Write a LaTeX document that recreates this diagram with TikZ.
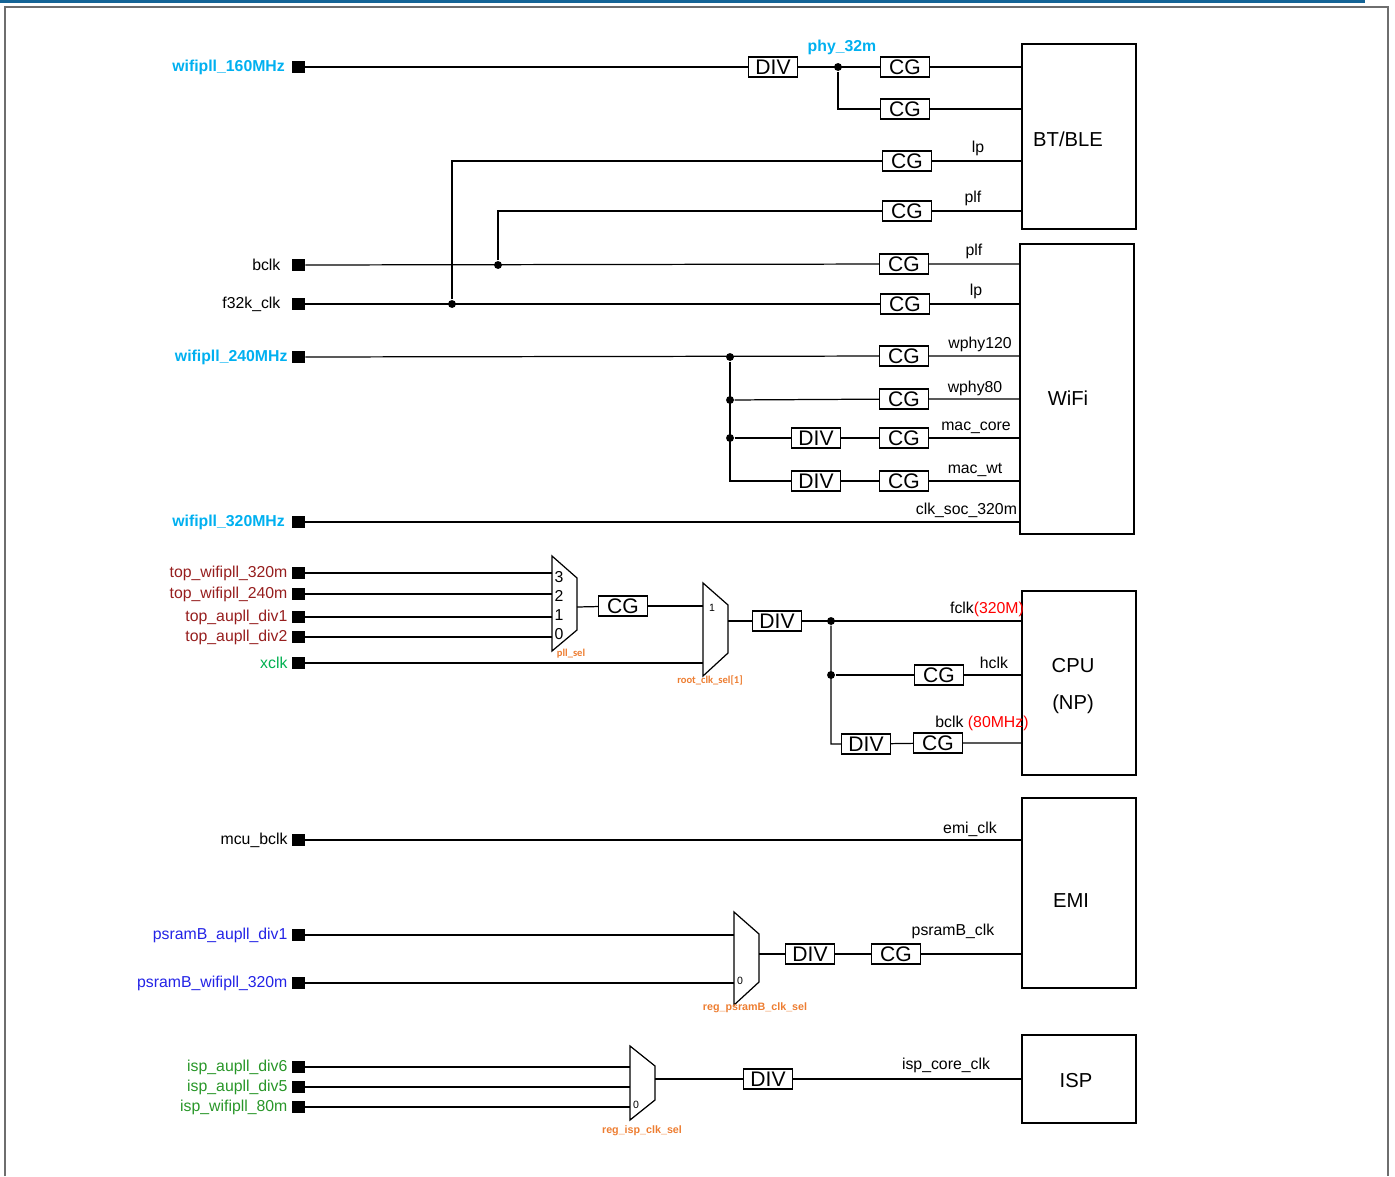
\documentclass[tikz,border=0pt]{standalone}
\usepackage{fontspec}
\setmainfont{Liberation Sans}
\newfontfamily\selfont{Carlito}
\usetikzlibrary{positioning}
\definecolor{pllblue}{RGB}{0,176,240}
\definecolor{topred}{RGB}{150,30,30}
\definecolor{xgreen}{RGB}{0,176,80}
\definecolor{psblue}{RGB}{35,35,230}
\definecolor{ispgreen}{RGB}{40,150,40}
\definecolor{selorange}{RGB}{237,125,49}
\definecolor{framegray}{RGB}{110,110,110}
\definecolor{barblue}{RGB}{20,100,150}
\begin{document}
\begin{tikzpicture}[x=0.02cm,y=-0.02cm,line width=0.7pt,
    pin/.style={fill=black,minimum size=7.2pt,inner sep=0pt},
    box/.style={draw,line width=0.8pt,minimum width=0.98cm,minimum height=0.4cm,inner sep=0pt,font=\fontsize{12}{12}\selectfont},
    blk/.style={draw,line width=0.8pt,minimum width=2.28cm},
    blktxt/.style={align=center,font=\fontsize{11.5}{21}\selectfont},
    lbl/.style={font=\fontsize{9}{10}\selectfont,inner sep=1pt},
    src/.style={lbl,font=\fontsize{9}{10}\selectfont\bfseries,text=pllblue},
    num/.style={font=\fontsize{6}{7}\selectfont,inner sep=0pt},
    sel/.style={font=\selfont\fontsize{6}{7}\selectfont\bfseries,text=selorange,inner sep=0pt},
    selreg/.style={font=\fontsize{6.1}{7}\selectfont\bfseries,text=selorange,inner sep=0pt},
    dot/.style={circle,fill=black,inner sep=0pt,minimum size=4.5pt}]
    \useasboundingbox (0,0) rectangle (1395,1176);
    \draw[barblue,line width=1.8pt] (0,1)--(1365,1);
    \draw[framegray,line width=1.2pt] (5,1176)--(5,7)--(1388,7)--(1388,1176);
    % blocks
    \node[blk,minimum height=3.7cm] (btble) at (1079,136.5) {};
    \node[blk,minimum height=5.8cm] (wifi) at (1077,389) {};
    \node[blk,minimum height=3.68cm] (cpu) at (1079,683) {};
    \node[blk,minimum height=3.8cm] (emi) at (1079,893) {};
    \node[blk,minimum height=1.76cm] (isp) at (1079,1079) {};
    \node[blktxt] (btbletxt) at (1068,139) {BT/BLE};
    \node[blktxt] (wifitxt) at (1068,398) {WiFi};
    \node[blktxt] (cputxt) at (1073,686) {CPU\\(NP)};
    \node[blktxt] (emitxt) at (1071,901) {EMI};
    \node[blktxt] (isptxt) at (1076,1081) {ISP};
    % wifipll 160M
    \node[pin] (p160) at (298.5,67) {};
    \node[src,left=2.5pt of p160] {wifipll\_160MHz};
    \node[box] (div160) at (773,67) {DIV};
    \node[dot] (d32) at (838,67) {};
    \node[src] at (842,47) {phy\_32m};
    \node[box] (cgphyA) at (905,67) {CG};
    \node[box] (cgphyB) at (905,109) {CG};
    \draw (p160)--(div160)--(cgphyA)--(cgphyA -| btble.west);
    \draw (d32) |- (cgphyB)--(cgphyB -| btble.west);
    % bclk and f32k_clk
    \node[pin] (pbclk) at (298.5,265) {};
    \node[lbl,left=5pt of pbclk] {bclk};
    \node[pin] (pf32k) at (298.5,304) {};
    \node[lbl,left=5pt of pf32k] {f32k\_clk};
    \node[dot] (dbclk) at (498,265) {};
    \node[dot] (df32k) at (452,304) {};
    \node[box] (cglp) at (907,161) {CG};
    \node[box] (cgplf) at (907,211) {CG};
    \node[box] (cgwplf) at (904,264) {CG};
    \node[box] (cgwlp) at (905,304) {CG};
    \draw (pbclk)--(cgwplf)--(cgwplf -| wifi.west);
    \draw (pf32k)--(cgwlp)--(cgwlp -| wifi.west);
    \draw (dbclk) |- (cgplf)--(cgplf -| btble.west);
    \draw (df32k) |- (cglp)--(cglp -| btble.west);
    \node[lbl] at (978,148) {lp};
    \node[lbl] at (973,198) {plf};
    \node[lbl] at (974,251) {plf};
    \node[lbl] at (976,291) {lp};
    % wifipll 240M
    \node[pin] (p240) at (298.5,357) {};
    \node[src,left=1pt of p240] {wifipll\_240MHz};
    \node[dot] (d240a) at (730,357) {};
    \node[dot] (d240b) at (730,400) {};
    \node[dot] (d240c) at (730,438) {};
    \coordinate (c240d) at (730,481);
    \node[box] (cgw120) at (904,356) {CG};
    \node[box] (cgw80) at (904,399) {CG};
    \node[box] (divmc) at (816,438) {DIV};
    \node[box] (cgmc) at (904,438) {CG};
    \node[box] (divwt) at (816,481) {DIV};
    \node[box] (cgwt) at (904,481) {CG};
    \draw (p240)--(cgw120)--(cgw120 -| wifi.west);
    \draw (d240b)--(cgw80)--(cgw80 -| wifi.west);
    \draw (d240c)--(divmc)--(cgmc)--(cgmc -| wifi.west);
    \draw (d240a)--(c240d)--(divwt)--(cgwt)--(cgwt -| wifi.west);
    \node[lbl] at (980,344) {wphy120};
    \node[lbl] at (975,388) {wphy80};
    \node[lbl] at (976,428) {mac\_core};
    \node[lbl] at (975,470) {mac\_wt};
    % wifipll 320M
    \node[pin] (p320) at (298.5,522) {};
    \node[src,left=2.5pt of p320] {wifipll\_320MHz};
    \draw (p320)--(p320 -| wifi.west);
    \node[lbl,anchor=south east] at (wifi.west |- 0,520) {clk\_soc\_320m};
    % cpu clocks
    \foreach \y/\name/\t in {573/ptw320/top\_wifipll\_320m,594/ptw240/top\_wifipll\_240m,617/pta1/top\_aupll\_div1,637/pta2/top\_aupll\_div2}{
        \node[pin] (\name) at (298.5,\y) {};
        \node[lbl,text=topred,left=1pt of \name] {\t};
    }
    \node[pin] (pxclk) at (298.5,663) {};
    \node[lbl,text=xgreen,left=1pt of pxclk] {xclk};
    \draw (552,556)--(577,578)--(577,630)--(552,651)--cycle;
    \coordinate (pllL) at (552,604);
    \coordinate (pllR) at (577,607);
    \foreach \y/\n in {577/3,596/2,615/1,634/0}
        \node[lbl,inner sep=0pt] at (559,\y) {\n};
    \foreach \name in {ptw320,ptw240,pta1,pta2}
        \draw (\name)--(\name -| pllL);
    \node[sel] at (571,654) {pll\_sel};
    \node[box] (cgpll) at (623,606) {CG};
    \draw (pllR)--(cgpll);
    \draw (703,583)--(728,605)--(728,653)--(703,676)--cycle;
    \coordinate (rootL) at (703,620);
    \coordinate (rootR) at (728,621);
    \node[num] at (712,608) {1};
    \node[sel] at (710,680) {root\_clk\_sel[1]};
    \draw (cgpll)--(cgpll -| rootL);
    \draw (pxclk)--(pxclk -| rootL);
    \node[box] (divcpu) at (777,621) {DIV};
    \node[dot] (dfclk) at (831,621) {};
    \node[dot] (dhclk) at (831,675) {};
    \coordinate (cbclk) at (831,744);
    \node[box] (cghclk) at (939,675) {CG};
    \node[box] (divbclk) at (866,744) {DIV};
    \node[box] (cgbclk) at (938,743) {CG};
    \draw (rootR)--(divcpu)--(divcpu -| cpu.west);
    \draw (dhclk)--(cghclk)--(cghclk -| cpu.west);
    \draw (dfclk)--(cbclk)--(divbclk)--(cgbclk)--(cgbclk -| cpu.west);
    \node[lbl] at (987,609) {fclk\textcolor{red}{(320M)}};
    \node[lbl] at (994,663) {hclk};
    \node[lbl] at (982,723) {bclk \textcolor{red}{(80MHz)}};
    % emi
    \node[pin] (pmcu) at (298.5,840) {};
    \node[lbl,left=1pt of pmcu] {mcu\_bclk};
    \draw (pmcu)--(pmcu -| emi.west);
    \node[lbl] at (970,829) {emi\_clk};
    \node[pin] (ppsA) at (298.5,935) {};
    \node[lbl,text=psblue,left=1pt of ppsA] {psramB\_aupll\_div1};
    \node[pin] (ppsB) at (298.5,983) {};
    \node[lbl,text=psblue,left=1pt of ppsB] {psramB\_wifipll\_320m};
    \draw (734,912)--(759,934)--(759,982)--(734,1005)--cycle;
    \coordinate (psL) at (734,958);
    \coordinate (psR) at (759,954);
    \node[num] at (740,981) {0};
    \node[selreg] at (755,1008) {reg\_psramB\_clk\_sel};
    \draw (ppsA)--(ppsA -| psL);
    \draw (ppsB)--(ppsB -| psL);
    \node[box] (divps) at (810,954) {DIV};
    \node[box] (cgps) at (896,954) {CG};
    \draw (psR)--(divps)--(cgps)--(cgps -| emi.west);
    \node[lbl] at (953,931) {psramB\_clk};
    % isp
    \foreach \y/\name/\t in {1067/pispA/isp\_aupll\_div6,1087/pispB/isp\_aupll\_div5,1107/pispC/isp\_wifipll\_80m}{
        \node[pin] (\name) at (298.5,\y) {};
        \node[lbl,text=ispgreen,left=1pt of \name] {\t};
        \draw (\name)--(630,\y);
    }
    \draw (630,1046)--(655,1066)--(655,1100)--(630,1120)--cycle;
    \coordinate (ispR) at (655,1079);
    \node[num] at (636,1105) {0};
    \node[selreg] at (642,1131) {reg\_isp\_clk\_sel};
    \node[box] (divisp) at (768,1079) {DIV};
    \draw (ispR)--(divisp)--(divisp -| isp.west);
    \node[lbl] at (946,1065) {isp\_core\_clk};
\end{tikzpicture}
\end{document}
